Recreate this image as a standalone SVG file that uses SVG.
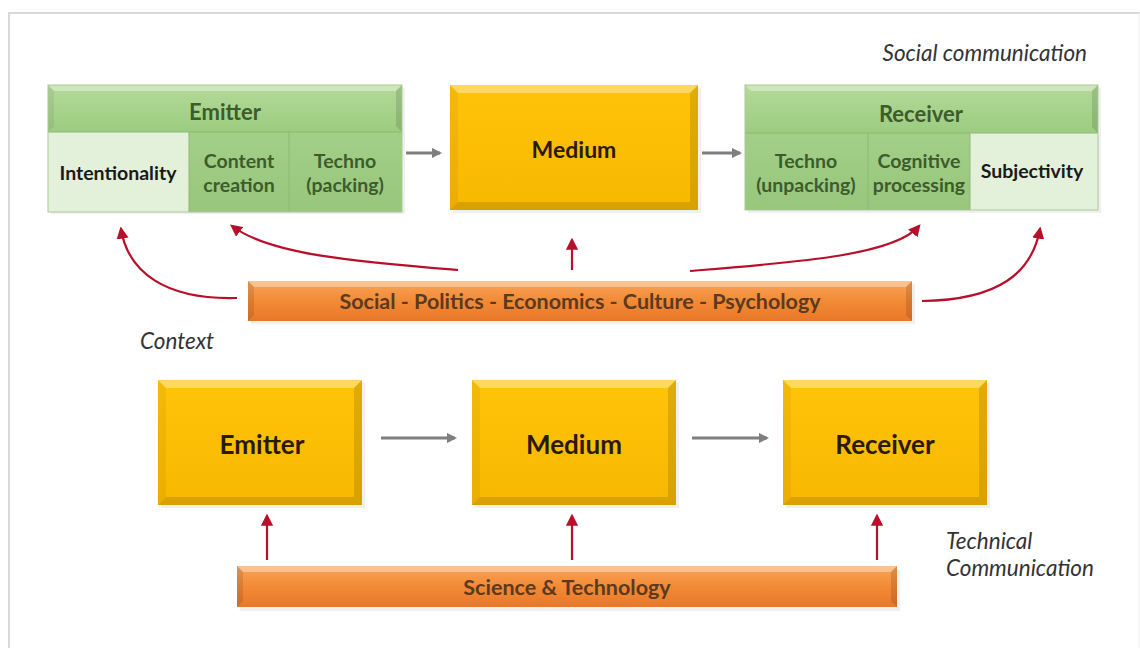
<svg xmlns="http://www.w3.org/2000/svg" width="1140" height="648" viewBox="0 0 1140 648">
<defs>
<style>
.t{font-family:Lato,"Open Sans","Liberation Sans",sans-serif;font-weight:700;text-anchor:middle;dominant-baseline:central}
.g{fill:#3d5c2c;font-size:19.5px}
.k{fill:#1a1a1a;font-size:19.5px}
.hd{fill:#3d5c2c;font-size:22px}
.yt{fill:#2a1a00;font-size:23px}
.yb{fill:#2a1a00;font-size:26px}
.ot{fill:#5a3a20;font-size:21.5px}
.it{font-family:Lato,"Open Sans","Liberation Sans",sans-serif;font-style:italic;fill:#333;font-size:22.5px}
.red{fill:none;stroke:#b8102a;stroke-width:2.2;marker-end:url(#ar)}
.gry{fill:none;stroke:#7f7f7f;stroke-width:3;marker-end:url(#ag)}
.hi{fill:#ffffff;opacity:.35}
.lo{fill:#000000;opacity:.12}
.sd{fill:#000000;opacity:.06}
</style>
<linearGradient id="yel" x1="0" y1="0" x2="0" y2="1"><stop offset="0" stop-color="#ffc40a"/><stop offset="1" stop-color="#f7b800"/></linearGradient>
<linearGradient id="org" x1="0" y1="0" x2="0" y2="1"><stop offset="0" stop-color="#f9a45a"/><stop offset="0.5" stop-color="#f28a35"/><stop offset="1" stop-color="#e8782a"/></linearGradient>
<linearGradient id="grh" x1="0" y1="0" x2="0" y2="1"><stop offset="0" stop-color="#b4da99"/><stop offset="1" stop-color="#9ccc80"/></linearGradient>
<linearGradient id="grc" x1="0" y1="0" x2="0" y2="1"><stop offset="0" stop-color="#a3cf88"/><stop offset="1" stop-color="#98c67c"/></linearGradient>
<marker id="ar" viewBox="0 0 10 10" refX="8" refY="5" markerWidth="5.5" markerHeight="5.5" orient="auto" markerUnits="strokeWidth"><path d="M0,0 L10,5 L0,10 z" fill="#b8102a"/></marker>
<marker id="ag" viewBox="0 0 10 10" refX="8" refY="5" markerWidth="3.5" markerHeight="3.5" orient="auto" markerUnits="strokeWidth"><path d="M0,0 L10,5 L0,10 z" fill="#7f7f7f"/></marker>
</defs>
<rect width="1140" height="648" fill="#ffffff"/>
<path d="M9 648 V13 H1140" fill="none" stroke="#d9d9d9" stroke-width="2"/>
<path d="M1139 13 V648" fill="none" stroke="#eeeeee" stroke-width="1"/>

<text class="it" x="1087" y="61" text-anchor="end">Social communication</text>
<text class="it" x="140" y="349">Context</text>
<text class="it" x="946" y="549">Technical</text>
<text class="it" x="946" y="576">Communication</text>

<g id="emitter-top">
<rect x="51" y="88" width="354" height="126" class="sd"/>
<rect x="48" y="85" width="354" height="47" fill="url(#grh)"/>
<polygon points="48,85 402,85 396,91 54,91" class="hi"/>
<polygon points="48,85 54,91 54,126 48,132" fill="#000" opacity=".06"/>
<polygon points="402,85 396,91 396,126 402,132" class="lo"/>
<rect x="48" y="132" width="141" height="80" fill="#e3f0da"/>
<rect x="189" y="132" width="100" height="80" fill="url(#grc)"/>
<rect x="289" y="132" width="113" height="80" fill="url(#grc)"/>
<path d="M48 132 H402 M189 132 V212 M289 132 V212" stroke="#8fb874" stroke-width="1"/>
<rect x="48" y="85" width="354" height="127" fill="none" stroke="#a9c99a" stroke-width="1"/>
<text class="t hd" x="225" y="111">Emitter</text>
<text class="t k" x="118" y="172">Intentionality</text>
<text class="t g" x="239" y="160">Content</text>
<text class="t g" x="239" y="184">creation</text>
<text class="t g" x="345" y="160">Techno</text>
<text class="t g" x="345" y="184">(packing)</text>
</g>

<g id="medium-top">
<rect x="453" y="88" width="248" height="125" class="sd"/>
<rect x="450" y="85" width="248" height="125" fill="url(#yel)"/>
<polygon points="450,85 698,85 690,93 458,93" class="hi"/>
<polygon points="450,85 458,93 458,202 450,210" fill="#000" opacity=".05"/>
<polygon points="698,85 690,93 690,202 698,210" class="lo"/>
<polygon points="450,210 458,202 690,202 698,210" class="lo"/>
<text class="t yt" x="574" y="149">Medium</text>
</g>

<g id="receiver-top">
<rect x="748" y="88" width="353" height="125" class="sd"/>
<rect x="745" y="85" width="353" height="48" fill="url(#grh)"/>
<polygon points="745,85 1098,85 1092,91 751,91" class="hi"/>
<polygon points="1098,85 1092,91 1092,127 1098,133" class="lo"/>
<rect x="745" y="133" width="123" height="77" fill="url(#grc)"/>
<rect x="868" y="133" width="102" height="77" fill="url(#grc)"/>
<rect x="970" y="133" width="128" height="77" fill="#e3f0da"/>
<path d="M745 133 H1098 M868 133 V210 M970 133 V210" stroke="#8fb874" stroke-width="1"/>
<rect x="745" y="85" width="353" height="125" fill="none" stroke="#a9c99a" stroke-width="1"/>
<text class="t hd" x="921" y="113">Receiver</text>
<text class="t g" x="806" y="160">Techno</text>
<text class="t g" x="806" y="184">(unpacking)</text>
<text class="t g" x="919" y="160">Cognitive</text>
<text class="t g" x="919" y="184">processing</text>
<text class="t k" x="1032" y="170">Subjectivity</text>
</g>

<g id="social-bar">
<rect x="251" y="284" width="664" height="40" class="sd"/>
<rect x="248" y="281" width="664" height="40" fill="url(#org)"/>
<polygon points="248,281 912,281 906,287 254,287" class="hi"/>
<polygon points="248,281 254,287 254,315 248,321" fill="#000" opacity=".1"/>
<polygon points="912,281 906,287 906,315 912,321" class="lo"/>
<text class="t ot" x="580" y="301">Social - Politics - Economics - Culture - Psychology</text>
</g>

<g id="emitter-bottom">
<rect x="161" y="383" width="204" height="125" class="sd"/>
<rect x="158" y="380" width="204" height="125" fill="url(#yel)"/>
<polygon points="158,380 362,380 354,388 166,388" class="hi"/>
<polygon points="158,380 166,388 166,497 158,505" fill="#000" opacity=".05"/>
<polygon points="362,380 354,388 354,497 362,505" class="lo"/>
<polygon points="158,505 166,497 354,497 362,505" class="lo"/>
<text class="t yb" x="262" y="444">Emitter</text>
</g>

<g id="medium-bottom">
<rect x="475" y="383" width="204" height="125" class="sd"/>
<rect x="472" y="380" width="204" height="125" fill="url(#yel)"/>
<polygon points="472,380 676,380 668,388 480,388" class="hi"/>
<polygon points="472,380 480,388 480,497 472,505" fill="#000" opacity=".05"/>
<polygon points="676,380 668,388 668,497 676,505" class="lo"/>
<polygon points="472,505 480,497 668,497 676,505" class="lo"/>
<text class="t yb" x="574" y="444">Medium</text>
</g>

<g id="receiver-bottom">
<rect x="786" y="383" width="204" height="125" class="sd"/>
<rect x="783" y="380" width="204" height="125" fill="url(#yel)"/>
<polygon points="783,380 987,380 979,388 791,388" class="hi"/>
<polygon points="783,380 791,388 791,497 783,505" fill="#000" opacity=".05"/>
<polygon points="987,380 979,388 979,497 987,505" class="lo"/>
<polygon points="783,505 791,497 979,497 987,505" class="lo"/>
<text class="t yb" x="885" y="444">Receiver</text>
</g>

<g id="science-bar">
<rect x="240" y="570" width="660" height="41" class="sd"/>
<rect x="237" y="566" width="660" height="41" fill="url(#org)"/>
<polygon points="237,566 897,566 891,572 243,572" class="hi"/>
<polygon points="237,566 243,572 243,601 237,607" fill="#000" opacity=".1"/>
<polygon points="897,566 891,572 891,601 897,607" class="lo"/>
<text class="t ot" x="567" y="587">Science &amp; Technology</text>
</g>

<g id="connectors">
<path class="gry" d="M406 153 H440"/>
<path class="gry" d="M702 153 H740"/>
<path class="gry" d="M381 438 H455"/>
<path class="gry" d="M692 438 H767"/>
<path class="red" d="M237 298 C165 300 128 272 121 229"/>
<path class="red" d="M458 270 C360 262 270 255 232 226"/>
<path class="red" d="M572 270 V240"/>
<path class="red" d="M690 271 C800 262 895 255 919 226"/>
<path class="red" d="M922 301 C1000 300 1032 272 1040 229"/>
<path class="red" d="M267 560 V516"/>
<path class="red" d="M572 560 V516"/>
<path class="red" d="M877 560 V516"/>
</g>
</svg>
